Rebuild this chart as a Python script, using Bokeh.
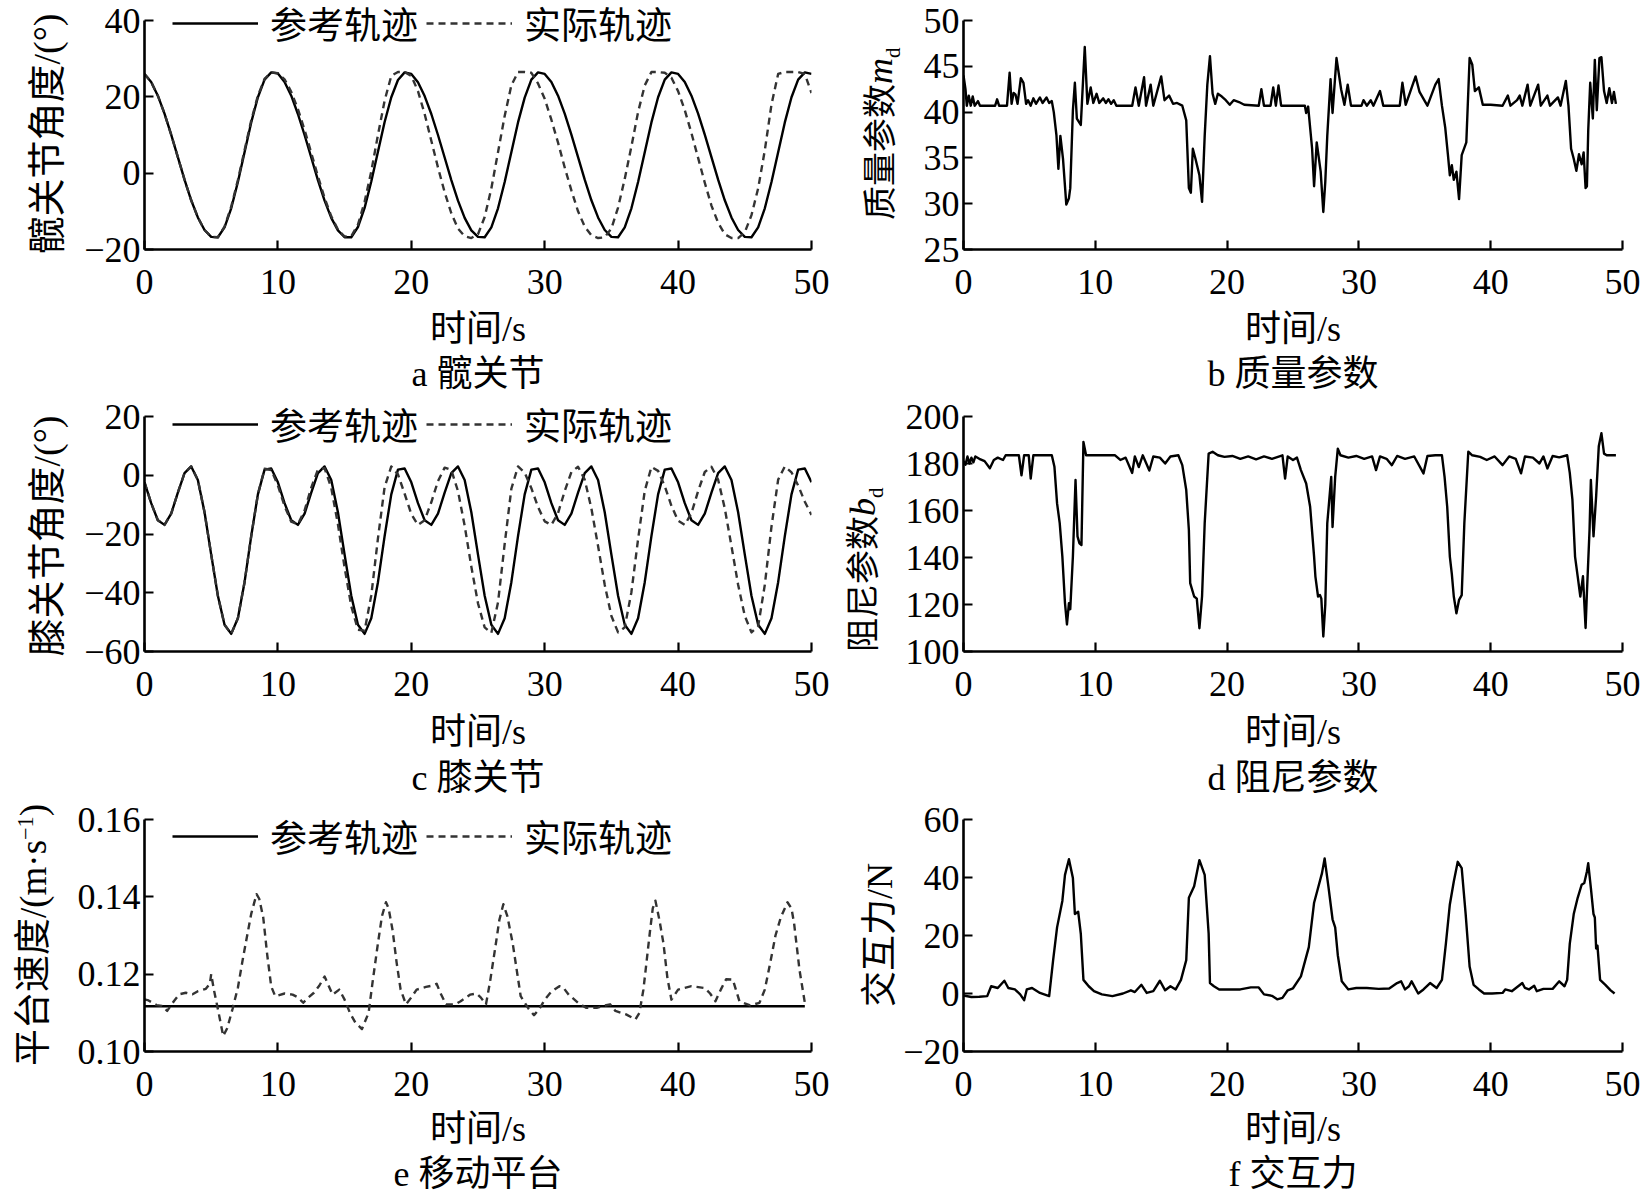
from bokeh.plotting import figure
from bokeh.models import (Range1d, FixedTicker, CustomJSTickFormatter, Legend,
                          LegendItem, Title, Div)
from bokeh.layouts import column, row
from bokeh.embed import file_html
from bokeh.resources import INLINE
from bokeh.core.properties import value

# ---------------------------------------------------------------- data
time_ticks = [0, 10, 20, 30, 40, 50]
time_s = [i * 0.5 for i in range(101)]          # sample times 0 ... 50 s

hip_ref = [
    26.0, 23.9, 20.3, 15.6, 10.1, 4.2, -1.7, -7.1, -11.6, -14.9, -16.7, -16.8, -14.2, -9.2, -2.3, 5.5, 13.3, 19.9, 24.5, 26.4,
    26.1, 23.9, 20.3, 15.5, 10.0, 4.1, -1.8, -7.2, -11.7, -15.0, -16.8, -16.8, -14.1, -9.1, -2.2, 5.6, 13.4, 19.9, 24.4, 26.4,
    26.0, 23.8, 20.2, 15.5, 10.0, 4.1, -1.8, -7.2, -11.7, -15.0, -16.7, -16.8, -14.2, -9.2, -2.3, 5.5, 13.3, 19.8, 24.5, 26.4,
    26.0, 23.9, 20.3, 15.6, 10.1, 4.2, -1.7, -7.1, -11.6, -14.9, -16.7, -16.8, -14.2, -9.2, -2.3, 5.5, 13.3, 19.9, 24.5, 26.4,
    26.0, 23.9, 20.3, 15.6, 10.1, 4.2, -1.7, -7.1, -11.6, -14.9, -16.7, -16.8, -14.2, -9.2, -2.3, 5.5, 13.3, 19.9, 24.5, 26.4,
    26.0]
hip_act = [
    26.0, 23.9, 20.3, 15.6, 10.1, 4.2, -1.7, -7.1, -11.6, -14.9, -16.7, -16.8, -14.0, -8.8, -1.8, 6.0, 13.8, 20.3, 24.7, 26.4,
    26.2, 24.6, 21.3, 16.8, 11.3, 5.3, -0.8, -6.5, -11.3, -14.8, -16.6, -16.5, -13.5, -7.5, 0.5, 10.0, 19.0, 25.5, 26.5, 26.5,
    25.5, 21.5, 15.5, 8.5, 1.5, -5.0, -10.5, -14.5, -16.5, -17.0, -16.0, -11.5, -4.0, 5.5, 15.0, 23.0, 26.5, 26.5, 26.3, 23.5,
    19.5, 14.0, 8.0, 1.5, -4.5, -10.0, -14.0, -16.3, -17.0, -16.8, -14.5, -9.0, -1.5, 7.0, 16.0, 23.0, 26.5, 26.5, 26.3, 25.0,
    21.5, 16.5, 10.5, 4.0, -2.5, -8.5, -13.0, -16.0, -17.0, -17.0, -15.5, -11.0, -4.0, 6.0, 18.0, 26.0, 26.5, 26.5, 26.5, 26.0,
    21.0]

knee_ref = [
    -2.4, -9.5, -15.3, -16.9, -13.1, -5.9, 0.7, 3.0, -1.6, -12.6, -27.0, -41.0, -50.9, -54.0, -48.7, -36.4, -20.7, -6.5, 1.9, 2.3,
    -2.4, -9.5, -15.3, -16.9, -13.1, -5.9, 0.7, 3.0, -1.6, -12.6, -27.0, -41.0, -50.9, -54.0, -48.7, -36.4, -20.7, -6.5, 1.9, 2.3,
    -2.4, -9.5, -15.3, -16.9, -13.1, -5.9, 0.7, 3.0, -1.6, -12.6, -27.0, -41.0, -50.9, -54.0, -48.7, -36.4, -20.7, -6.5, 1.9, 2.3,
    -2.4, -9.5, -15.3, -16.9, -13.1, -5.9, 0.7, 3.0, -1.6, -12.6, -27.0, -41.0, -50.9, -54.0, -48.7, -36.4, -20.7, -6.5, 1.9, 2.3,
    -2.4, -9.5, -15.3, -16.9, -13.1, -5.9, 0.7, 3.0, -1.6, -12.6, -27.0, -41.0, -50.9, -54.0, -48.7, -36.4, -20.7, -6.5, 1.9, 2.3,
    -2.4]
knee_act = [
    -2.4, -9.5, -15.3, -16.9, -13.1, -5.9, 0.7, 3.0, -1.6, -12.6, -27.0, -41.0, -50.9, -54.0, -48.7, -36.4, -20.7, -6.5, 2.2, 1.8,
    -3.5, -10.5, -15.8, -16.7, -12.0, -4.2, 1.9, 2.4, -4.3, -16.7, -31.4, -44.6, -52.6, -52.9, -40.9, -21.5, -4.0, 3.0, 0.3, -6.3,
    -13.2, -16.9, -15.3, -9.2, -2.0, 2.6, 1.8, -5.4, -17.2, -31.1, -43.6, -51.8, -53.7, -43.3, -23.4, -4.6, 3.0, 0.9, -4.4, -10.8,
    -15.7, -16.9, -12.9, -5.4, 1.1, 2.9, -1.5, -11.3, -24.1, -37.3, -47.9, -53.5, -51.8, -39.8, -21.8, -5.3, 2.8, 1.5, -3.7, -10.4,
    -15.5, -16.9, -12.9, -5.4, 1.1, 2.9, -1.5, -11.3, -24.1, -37.3, -47.9, -53.5, -51.4, -37.3, -17.5, -1.5, 3.0, 1.0, -3.5, -9.0,
    -13.5]

# (time s, m_d)
mass_param = [
    (0.0, 44.0), (0.15, 42.5), (0.25, 40.7), (0.4, 41.8), (0.55, 40.7), (0.7, 41.7), (0.85, 40.7), (1.1, 41.2),
    (1.25, 40.7), (2.4, 40.7), (2.55, 41.4), (2.7, 40.7), (3.3, 40.7), (3.5, 44.3), (3.65, 40.9), (3.8, 42.1),
    (3.95, 41.9), (4.1, 40.9), (4.35, 43.7), (4.55, 43.2), (4.75, 40.9), (4.9, 41.3), (5.1, 40.7), (5.3, 41.5),
    (5.5, 40.9), (5.8, 41.6), (6.0, 41.0), (6.3, 41.6), (6.5, 41.0), (6.7, 41.2), (6.85, 40.0), (7.05, 37.5),
    (7.2, 33.8), (7.35, 37.4), (7.55, 34.9), (7.8, 29.9), (8.0, 30.6), (8.1, 31.7), (8.3, 40.2), (8.45, 43.2),
    (8.6, 39.3), (8.9, 38.6), (9.2, 47.1), (9.4, 40.9), (9.65, 42.7), (9.85, 41.0), (10.1, 42.0), (10.3, 41.0),
    (10.6, 41.5), (10.8, 41.0), (11.0, 41.4), (11.2, 40.9), (11.4, 41.3), (11.6, 40.7), (12.8, 40.7), (13.05, 42.7),
    (13.3, 40.7), (13.7, 43.8), (13.85, 40.7), (14.2, 43.0), (14.4, 40.7), (15.0, 43.9), (15.25, 41.3), (15.6, 41.8),
    (15.9, 40.9), (16.2, 41.0), (16.6, 40.7), (16.9, 39.1), (17.1, 31.7), (17.25, 31.2), (17.4, 36.0), (17.6, 34.9),
    (17.9, 33.1), (18.1, 30.2), (18.3, 37.4), (18.5, 43.0), (18.7, 46.1), (18.9, 42.0), (19.1, 40.9), (19.3, 42.0),
    (19.6, 41.7), (19.9, 41.3), (20.2, 40.8), (20.5, 41.3), (20.9, 41.1), (21.3, 40.8), (22.4, 40.7), (22.6, 42.5),
    (22.8, 40.7), (23.3, 40.7), (23.5, 42.7), (23.7, 40.7), (23.9, 42.9), (24.1, 40.7), (25.9, 40.7), (26.0, 39.9),
    (26.15, 40.6), (26.45, 36.0), (26.6, 31.9), (26.8, 36.7), (27.1, 33.5), (27.3, 29.1), (27.45, 32.4), (27.6, 37.4),
    (27.85, 43.6), (28.0, 39.9), (28.3, 45.9), (28.65, 42.5), (28.9, 40.8), (29.15, 43.0), (29.4, 40.7), (30.2, 40.7),
    (30.35, 41.3), (30.6, 40.7), (30.9, 41.3), (31.1, 40.7), (31.6, 42.3), (31.85, 40.7), (33.1, 40.7), (33.3, 43.2),
    (33.55, 40.8), (34.3, 43.9), (34.6, 42.2), (35.0, 41.2), (35.2, 40.7), (35.8, 43.0), (36.05, 43.6), (36.3, 40.7),
    (36.55, 38.3), (36.75, 35.4), (36.9, 33.1), (37.05, 34.2), (37.2, 32.6), (37.4, 33.5), (37.6, 30.5), (37.8, 35.3),
    (38.15, 36.7), (38.4, 45.9), (38.6, 45.2), (38.8, 42.3), (39.1, 42.7), (39.4, 40.8), (40.0, 40.8), (40.9, 40.7),
    (41.3, 41.8), (41.5, 40.7), (42.0, 41.3), (42.2, 41.8), (42.4, 40.7), (42.8, 43.0), (43.0, 40.7), (43.6, 43.0),
    (43.8, 40.7), (44.3, 41.8), (44.5, 40.7), (45.1, 41.6), (45.3, 40.7), (45.7, 43.4), (45.9, 40.7), (46.1, 36.0),
    (46.3, 34.9), (46.5, 33.6), (46.7, 35.4), (46.9, 34.3), (47.05, 35.6), (47.2, 31.7), (47.3, 31.9), (47.4, 38.0),
    (47.55, 43.2), (47.75, 39.3), (47.9, 45.7), (48.05, 40.2), (48.25, 45.9), (48.4, 46.0), (48.6, 42.3), (48.8, 41.0),
    (49.0, 42.6), (49.2, 41.0), (49.35, 42.2), (49.5, 40.9)]

# (time s, b_d)
damping_param = [
    (0.0, 181.0), (0.15, 179.5), (0.3, 183.0), (0.45, 180.0), (0.6, 182.5), (0.75, 180.5), (0.9, 183.0), (1.2, 182.0),
    (1.6, 181.0), (2.0, 178.0), (2.3, 181.5), (2.6, 182.5), (3.0, 181.5), (3.2, 183.5), (4.2, 183.5), (4.4, 175.0),
    (4.6, 183.5), (4.95, 183.5), (5.1, 173.6), (5.3, 183.5), (6.7, 183.5), (6.9, 178.6), (7.1, 163.0), (7.3, 154.6),
    (7.5, 140.5), (7.7, 120.6), (7.85, 111.5), (8.0, 120.6), (8.1, 118.0), (8.3, 140.4), (8.5, 173.0), (8.65, 149.0),
    (8.8, 146.0), (8.95, 145.3), (9.1, 189.2), (9.3, 183.5), (11.5, 183.5), (11.9, 181.5), (12.3, 182.5), (12.8, 176.0),
    (13.0, 183.0), (13.3, 178.5), (13.6, 183.5), (14.1, 177.0), (14.4, 183.0), (14.9, 182.5), (15.3, 180.0), (15.7, 183.0),
    (16.3, 183.5), (16.6, 179.3), (16.9, 168.7), (17.1, 151.7), (17.2, 129.1), (17.5, 123.4), (17.7, 122.5), (17.9, 109.9),
    (18.1, 123.5), (18.3, 154.6), (18.6, 184.2), (18.9, 185.0), (19.3, 183.5), (19.8, 182.8), (20.4, 183.2), (21.0, 182.0),
    (21.6, 183.0), (22.2, 181.8), (22.8, 183.0), (23.4, 182.0), (24.2, 183.5), (24.4, 173.6), (24.6, 183.0), (25.0, 181.5),
    (25.3, 182.5), (25.6, 177.2), (26.0, 171.5), (26.3, 161.6), (26.6, 140.4), (26.7, 131.9), (26.9, 123.4), (27.05, 124.0),
    (27.15, 122.5), (27.3, 106.4), (27.45, 120.0), (27.6, 154.5), (27.75, 164.4), (27.9, 174.3), (28.0, 153.0), (28.2, 174.3),
    (28.4, 186.3), (28.6, 183.5), (29.2, 182.5), (29.8, 183.2), (30.4, 182.0), (31.0, 183.0), (31.3, 177.2), (31.6, 183.0),
    (32.1, 182.0), (32.5, 179.3), (32.9, 183.2), (33.5, 182.0), (34.2, 183.0), (34.9, 175.8), (35.2, 183.2), (35.8, 183.5),
    (36.3, 183.5), (36.5, 174.3), (36.7, 161.6), (36.9, 140.4), (37.05, 133.0), (37.2, 123.4), (37.4, 116.3), (37.6, 122.0),
    (37.8, 124.0), (38.0, 154.6), (38.3, 185.0), (38.6, 183.5), (39.2, 182.8), (39.7, 181.5), (40.3, 183.0), (40.9, 179.3),
    (41.4, 183.0), (41.9, 182.0), (42.3, 175.8), (42.6, 183.0), (43.2, 182.5), (43.7, 180.0), (44.0, 183.0), (44.3, 177.9),
    (44.7, 183.2), (45.2, 182.6), (45.8, 183.5), (46.0, 176.0), (46.2, 164.6), (46.4, 140.4), (46.6, 132.0), (46.8, 123.4),
    (47.0, 132.0), (47.2, 110.0), (47.3, 125.0), (47.5, 151.8), (47.6, 173.0), (47.8, 149.0), (48.0, 166.0), (48.2, 187.3),
    (48.4, 192.9), (48.6, 184.2), (48.8, 183.5), (49.5, 183.5)]

# (time s, speed m/s)
platform_act = [
    (0.0, 0.1135), (0.3, 0.1132), (0.9, 0.1120), (1.3, 0.1118), (1.7, 0.1105), (2.2, 0.1130), (2.6, 0.1148), (3.1, 0.1152),
    (3.6, 0.1148), (4.0, 0.1156), (4.6, 0.1162), (4.9, 0.1175), (5.0, 0.1200), (5.2, 0.1160), (5.5, 0.1110), (5.9, 0.1040),
    (6.2, 0.1060), (6.6, 0.1110), (7.0, 0.1165), (7.4, 0.1245), (8.0, 0.1356), (8.4, 0.1407), (8.6, 0.1395), (8.9, 0.1347),
    (9.2, 0.1250), (9.5, 0.1168), (9.8, 0.1143), (10.5, 0.1150), (11.1, 0.1147), (11.5, 0.1140), (11.9, 0.1126), (12.3, 0.1140),
    (12.7, 0.1152), (13.1, 0.1170), (13.5, 0.1194), (14.1, 0.1147), (14.6, 0.1160), (15.0, 0.1134), (15.4, 0.1100), (15.8, 0.1075),
    (16.3, 0.1058), (16.8, 0.1100), (17.1, 0.1180), (17.5, 0.1280), (17.8, 0.1350), (18.1, 0.1386), (18.3, 0.1370), (18.6, 0.1313),
    (18.9, 0.1230), (19.2, 0.1160), (19.6, 0.1122), (20.0, 0.1140), (20.4, 0.1160), (21.1, 0.1167), (21.5, 0.1170), (21.9, 0.1175),
    (22.2, 0.1150), (22.6, 0.1122), (23.3, 0.1122), (23.7, 0.1130), (24.4, 0.1147), (24.9, 0.1150), (25.2, 0.1140), (25.6, 0.1122),
    (25.9, 0.1180), (26.3, 0.1270), (26.6, 0.1340), (26.9, 0.1381), (27.2, 0.1350), (27.6, 0.1280), (28.2, 0.1143), (28.8, 0.1110),
    (29.2, 0.1094), (29.6, 0.1110), (30.0, 0.1134), (30.5, 0.1155), (31.1, 0.1169), (31.4, 0.1165), (31.8, 0.1147), (32.5, 0.1126),
    (33.1, 0.1113), (33.9, 0.1113), (34.4, 0.1118), (34.9, 0.1122), (35.3, 0.1105), (36.1, 0.1096), (36.8, 0.1083), (37.1, 0.1100),
    (37.4, 0.1160), (37.9, 0.1313), (38.1, 0.1370), (38.3, 0.1390), (38.6, 0.1340), (38.9, 0.1280), (39.2, 0.1190), (39.5, 0.1134),
    (40.0, 0.1160), (41.0, 0.1169), (42.0, 0.1164), (42.4, 0.1150), (42.8, 0.1130), (43.2, 0.1160), (43.6, 0.1187), (44.1, 0.1186),
    (44.6, 0.1130), (45.4, 0.1119), (46.1, 0.1126), (46.5, 0.1160), (46.9, 0.1228), (47.3, 0.1300), (47.7, 0.1347), (48.2, 0.1386),
    (48.5, 0.1370), (48.7, 0.1330), (49.1, 0.1211), (49.5, 0.1126)]
platform_ref_t = [0.0, 49.5]
platform_ref_v = [0.1117, 0.1117]

# (time s, force N)
force_pts = [
    (0.0, -0.7), (0.6, -1.2), (1.2, -1.1), (1.8, -0.9), (2.1, 2.5), (2.6, 1.9), (3.1, 4.4), (3.4, 1.9), (3.9, 1.4),
    (4.3, -0.3), (4.6, -2.3), (4.8, 1.4), (5.2, 1.9), (5.8, 0.2), (6.5, -0.9), (6.8, 11.5), (7.1, 22.8), (7.5, 31.9),
    (7.7, 40.9), (8.0, 46.3), (8.3, 39.8), (8.45, 27.4), (8.7, 28.2), (8.9, 20.6), (9.1, 4.7), (9.5, 2.5), (9.9, 0.8),
    (10.5, -0.3), (11.3, -0.9), (12.1, 0.0), (12.7, 1.1), (13.0, 0.5), (13.5, 3.0), (13.9, 0.2), (14.4, 0.8), (14.9, 4.4),
    (15.3, 1.1), (15.7, 2.5), (16.1, 1.4), (16.5, 4.7), (16.9, 11.5), (17.1, 33.0), (17.5, 37.0), (17.9, 46.0), (18.3, 40.9),
    (18.6, 20.6), (18.7, 3.6), (19.0, 2.5), (19.4, 1.4), (21.0, 1.4), (21.8, 2.1), (22.4, 2.1), (22.8, -0.3), (23.4, -0.8),
    (23.8, -2.0), (24.2, -1.5), (24.6, 1.1), (25.0, 1.8), (25.6, 5.9), (26.2, 16.0), (26.6, 31.3), (26.9, 36.4), (27.2, 41.5),
    (27.4, 46.6), (27.7, 36.4), (28.0, 25.6), (28.2, 22.8), (28.4, 13.2), (28.7, 4.2), (29.0, 2.5), (29.2, 1.4), (29.8, 1.9),
    (30.6, 1.9), (31.5, 1.6), (32.3, 1.7), (32.9, 3.6), (33.2, 4.2), (33.5, 1.4), (33.8, 2.5), (34.0, 4.2), (34.5, 0.0),
    (34.9, 1.4), (35.4, 3.6), (35.9, 1.9), (36.3, 4.7), (36.6, 17.2), (36.9, 30.7), (37.2, 38.6), (37.5, 45.4), (37.8, 43.2),
    (38.1, 27.4), (38.4, 9.3), (38.7, 3.0), (39.1, 1.4), (39.5, 0.0), (40.1, 0.0), (40.9, 0.2), (41.1, 1.4), (41.6, 0.8),
    (42.4, 3.6), (42.6, 1.9), (42.9, 1.4), (43.3, 2.7), (43.5, 0.8), (44.0, 1.6), (44.7, 1.6), (45.2, 4.2), (45.6, 2.5),
    (45.8, 4.7), (46.0, 17.2), (46.3, 27.4), (46.6, 33.0), (46.9, 37.5), (47.1, 38.1), (47.3, 42.1), (47.4, 44.9), (47.6, 36.4),
    (47.8, 27.4), (47.9, 26.2), (48.0, 15.5), (48.1, 16.5), (48.3, 4.7), (48.7, 3.0), (49.1, 1.1), (49.4, 0.0)]

hip_ticks = [-20, 0, 20, 40]
mass_ticks = [25, 30, 35, 40, 45, 50]
knee_ticks = [-60, -40, -20, 0, 20]
damp_ticks = [100, 120, 140, 160, 180, 200]
speed_ticks = [0.10, 0.12, 0.14, 0.16]
force_ticks = [-20, 0, 20, 40, 60]

legend_labels = ["参考轨迹", "实际轨迹"]
captions = ["a 髋关节", "b 质量参数", "c 膝关节", "d 阻尼参数", "e 移动平台", "f 交互力"]
x_title = "时间/s"
y_titles = ["髋关节角度/(°)", "膝关节角度/(°)",
            "平台速度/(m·s<sup style=\"font-size:0.6em\">−1</sup>)", "交互力/N"]
param_titles = [("质量参数", "m", "d"), ("阻尼参数", "b", "d")]

# ---------------------------------------------------------------- style
FONT = "Liberation Serif, Noto Sans CJK SC"
CSS_FONT = "'Liberation Serif','Noto Sans CJK SC'"
TICK_PX = "36px"
TEXT_PX = "36px"
INK = "black"
DASH_INK = "#333333"
LW = 2.4
DASH = "7 5"

LEFT_W, RIGHT_W = 667, 659       # frame widths (px)


def fmt(dec):
    return CustomJSTickFormatter(code=(
        "const a = Math.abs(tick).toFixed(%d);"
        "return tick < -1e-9 ? '\u2212' + a : a;" % dec))


def make_panel(frame_w, frame_h, bl, br, bt, y_lo, y_top, y_hi, yticks, ydec,
               caption, tick_so, label_so, cap_so):
    p = figure(frame_width=frame_w, frame_height=frame_h,
               min_border_left=bl, min_border_right=br,
               min_border_top=bt, min_border_bottom=60,
               x_range=Range1d(0, 50), y_range=Range1d(y_lo, y_top),
               output_backend="svg", toolbar_location=None, title=None)
    p.outline_line_color = None
    p.xgrid.visible = False
    p.ygrid.visible = False
    p.background_fill_color = "white"
    p.border_fill_color = "white"
    p.xaxis.ticker = FixedTicker(ticks=time_ticks)
    p.yaxis.ticker = FixedTicker(ticks=yticks)
    p.yaxis.bounds = (y_lo, y_hi)
    p.xaxis.formatter = fmt(0)
    p.yaxis.formatter = fmt(ydec)
    for ax in (p.xaxis[0], p.yaxis[0]):
        ax.axis_line_width = 2.6
        ax.axis_line_color = INK
        ax.major_tick_line_width = 2.2
        ax.major_tick_line_color = INK
        ax.major_tick_in = 9
        ax.major_tick_out = 0
        ax.minor_tick_line_color = None
        ax.major_label_text_font = FONT
        ax.major_label_text_font_size = TICK_PX
        ax.major_label_text_color = INK
        ax.axis_label_text_font = FONT
        ax.axis_label_text_font_size = TEXT_PX
        ax.axis_label_text_font_style = "normal"
        ax.axis_label_text_color = INK
    p.xaxis.major_label_standoff = tick_so
    p.yaxis.major_label_standoff = 4
    p.xaxis.axis_label = x_title
    p.xaxis.axis_label_standoff = label_so
    cap = Title(text=caption, align="center", text_font=FONT,
                text_font_size=TEXT_PX, text_font_style="normal",
                text_color=INK, standoff=cap_so)
    p.add_layout(cap, "below")
    return p


def add_pair_legend(p, r1, r2, ybottom):
    leg = Legend(items=[LegendItem(label=value(legend_labels[0]), renderers=[r1]),
                        LegendItem(label=value(legend_labels[1]), renderers=[r2])],
                 location=(28, ybottom), orientation="horizontal",
                 glyph_width=86, glyph_height=44, label_height=44,
                 label_standoff=12, spacing=8, padding=0, margin=0,
                 label_text_font=FONT, label_text_font_size="37px",
                 label_text_color=INK,
                 border_line_color=None, background_fill_alpha=0)
    p.add_layout(leg)


def rot_div(w, h, pieces):
    """Vertical (bottom-to-top) HTML texts; each piece: left, bottom, box, align, size, html."""
    inner = ""
    for (left, bottom, box, align, size, html) in pieces:
        inner += ('<div style="position:absolute;left:%spx;top:%spx;width:%spx;'
                  'transform-origin:0 0;transform:rotate(-90deg);white-space:nowrap;'
                  'text-align:%s;line-height:%spx;font-size:%spx;font-family:%s;'
                  'color:#000;">%s</div>' % (left, bottom, box, align, size, size, CSS_FONT, html))
    html_all = ('<div style="position:relative;width:%dpx;height:%dpx;">%s</div>'
                % (w, h, inner))
    return Div(text=html_all, width=w, height=h, margin=0)


def param_html(parts):
    word, sym, sub = parts
    return ('%s<i style="font-size:36px">%s</i>'
            '<sub style="font-size:21px">%s</sub>' % (word, sym, sub))


# ---------------------------------------------------------------- row 1
da = rot_div(70, 370, [(28, 264, 260, "center", 38, y_titles[0])])
pa = make_panel(LEFT_W, 245, 74, 25, 4, -20, 40 + 16 * 60 / 229, 40, hip_ticks, 0,
                captions[0], 20, 12, 0)
ra1 = pa.line(time_s, hip_ref, line_width=LW, line_color=INK, line_join="round")
ra2 = pa.line(time_s, hip_act, line_width=LW, line_color=DASH_INK,
              line_dash=DASH, line_join="round")
add_pair_legend(pa, ra1, ra2, 199)

db = rot_div(64, 370, [(27, 220, 250, "left", 34, param_html(param_titles[0]))])
pb = make_panel(RIGHT_W, 245, 63, 20, 4, 25, 50 + 16 * 25 / 229, 50, mass_ticks, 0,
                captions[1], 20, 12, 0)
pb.line([q[0] for q in mass_param], [q[1] for q in mass_param],
        line_width=LW, line_color=INK, line_join="round")

# ---------------------------------------------------------------- row 2
dc = rot_div(70, 380, [(28, 273, 260, "center", 38, y_titles[1])])
pc = make_panel(LEFT_W, 245, 74, 25, 13, -60, 20 + 10 * 80 / 235, 20, knee_ticks, 0,
                captions[2], 20, 13, 2)
rc1 = pc.line(time_s, knee_ref, line_width=LW, line_color=INK, line_join="round")
rc2 = pc.line(time_s, knee_act, line_width=LW, line_color=DASH_INK,
              line_dash=DASH, line_join="round")
add_pair_legend(pc, rc1, rc2, 200)

dd = rot_div(64, 380, [(10, 259, 250, "left", 34, param_html(param_titles[1]))])
pd = make_panel(RIGHT_W, 245, 63, 20, 13, 100, 200 + 10 * 100 / 235, 200, damp_ticks, 0,
                captions[3], 20, 13, 2)
pd.line([q[0] for q in damping_param], [q[1] for q in damping_param],
        line_width=LW, line_color=INK, line_join="round")

# ---------------------------------------------------------------- row 3
de = rot_div(70, 370, [(7, 272, 270, "center", 37, y_titles[2])])
pe = make_panel(LEFT_W, 234, 74, 25, 19, 0.10, 0.16 + 2 * 0.06 / 232, 0.16, speed_ticks, 2,
                captions[4], 20, 10, 0)
re1 = pe.line(platform_ref_t, platform_ref_v, line_width=LW, line_color=INK)
re2 = pe.line([q[0] for q in platform_act], [q[1] for q in platform_act],
              line_width=LW, line_color=DASH_INK, line_dash=DASH, line_join="round")
add_pair_legend(pe, re1, re2, 188)

df = rot_div(64, 370, [(26, 237, 200, "center", 36, y_titles[3])])
pf = make_panel(RIGHT_W, 234, 63, 20, 19, -20, 60 + 2 * 80 / 232, 60, force_ticks, 0,
                captions[5], 20, 10, 0)
pf.line([q[0] for q in force_pts], [q[1] for q in force_pts],
        line_width=LW, line_color=INK, line_join="round")

layout = column(row(da, pa, db, pb), row(dc, pc, dd, pd), row(de, pe, df, pf))
open("out.html", "w").write(file_html(layout, INLINE, title="figure"))
